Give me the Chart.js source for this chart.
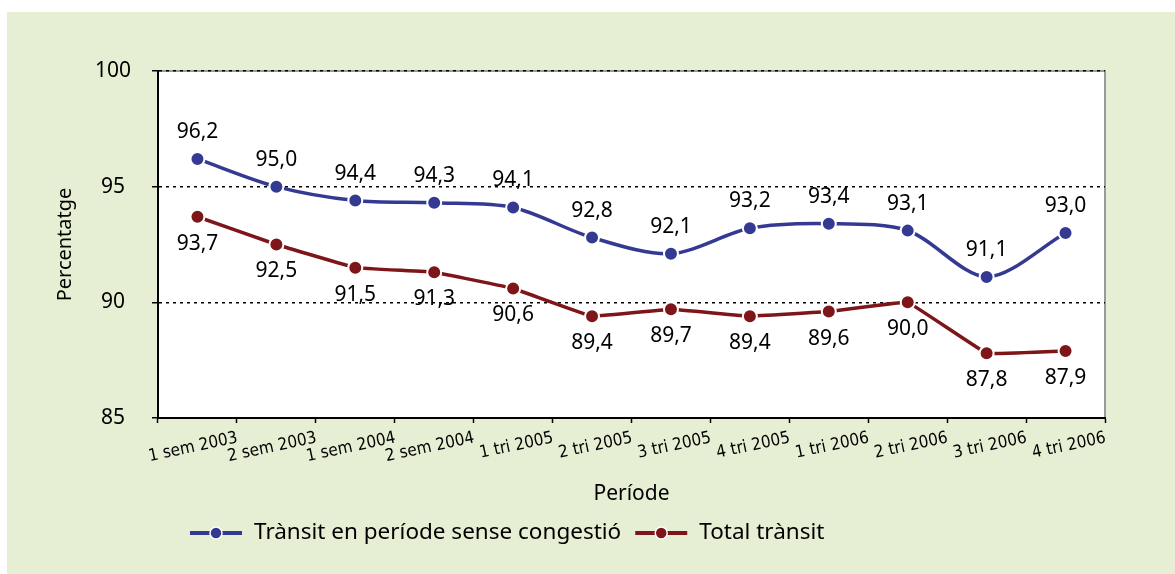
<!DOCTYPE html>
<html>
<head>
<meta charset="utf-8">
<script src="https://cdn.jsdelivr.net/npm/chart.js@4/dist/chart.umd.min.js"></script>
<style>
  html, body { margin: 0; padding: 0; background: #fff; }
  #wrap { width: 1175px; height: 574px; }
</style>
</head>
<body>
<div id="wrap"><canvas id="canvas" width="1175" height="574"></canvas></div>
<script>
// dades del gràfic
const periodes = [
  "1 sem 2003", "2 sem 2003", "1 sem 2004", "2 sem 2004",
  "1 tri 2005", "2 tri 2005", "3 tri 2005", "4 tri 2005",
  "1 tri 2006", "2 tri 2006", "3 tri 2006", "4 tri 2006",
];
const sensecongestio = [96.2, 95.0, 94.4, 94.3, 94.1, 92.8, 92.1, 93.2, 93.4, 93.1, 91.1, 93.0];
const totalTransit = [93.7, 92.5, 91.5, 91.3, 90.6, 89.4, 89.7, 89.4, 89.6, 90.0, 87.8, 87.9];
const yTicks = [85, 90, 95, 100];

const FONT = "'Noto Sans', 'DejaVu Sans', sans-serif";
const NARROW = "'Liberation Sans Narrow', 'DejaVu Sans Condensed', 'Noto Sans', sans-serif";
const BLUE = "#343a92";
const RED = "#7e1518";
const GREEN = "#e6efd4";

// fons verd + àrea blanca amb marc gris
const backgroundPlugin = {
  id: "fons",
  beforeDraw(chart) {
    const { ctx, chartArea: a } = chart;
    ctx.save();
    ctx.fillStyle = GREEN;
    ctx.fillRect(7, 12, chart.width - 7, chart.height - 12);
    ctx.fillStyle = "#fff";
    ctx.fillRect(a.left, a.top, a.right - a.left, a.bottom - a.top);
    ctx.strokeStyle = "#9a9a9a";
    ctx.lineWidth = 2;
    ctx.strokeRect(a.left, a.top, a.right - a.left, a.bottom - a.top);
    ctx.restore();
  },
};

// etiquetes de valor: blau a sobre, vermell a sota
const labelsPlugin = {
  id: "etiquetes",
  afterDatasetsDraw(chart) {
    const { ctx } = chart;
    ctx.save();
    ctx.font = "21px " + FONT;
    ctx.fillStyle = "#000";
    ctx.textAlign = "center";
    ctx.textBaseline = "middle";
    chart.data.datasets.forEach((ds, i) => {
      const meta = chart.getDatasetMeta(i);
      const dy = i === 0 ? -27 : 27;
      meta.data.forEach((pt, j) => {
        const txt = ds.data[j].toFixed(1).replace(".", ",");
        ctx.fillText(txt, pt.x, pt.y + dy);
      });
    });
    ctx.restore();
  },
};

// llegenda a baix amb línia + marcador
const legendPlugin = {
  id: "llegenda",
  afterDraw(chart) {
    const { ctx } = chart;
    const y = 533;
    let x = 190;
    ctx.save();
    ctx.font = "22.5px " + FONT;
    ctx.textBaseline = "middle";
    chart.data.datasets.forEach((ds) => {
      ctx.strokeStyle = ds.borderColor;
      ctx.lineWidth = 4;
      ctx.beginPath();
      ctx.moveTo(x, y);
      ctx.lineTo(x + 52, y);
      ctx.stroke();
      ctx.beginPath();
      ctx.arc(x + 26, y, 6, 0, Math.PI * 2);
      ctx.fillStyle = ds.borderColor;
      ctx.fill();
      ctx.strokeStyle = "#fff";
      ctx.lineWidth = 1.5;
      ctx.stroke();
      ctx.fillStyle = "#000";
      ctx.fillText(ds.label, x + 64, y);
      x += 64 + ctx.measureText(ds.label).width + 14;
    });
    ctx.restore();
  },
};

const ctx = document.getElementById("canvas").getContext("2d");
new Chart(ctx, {
  type: "line",
  data: {
    labels: periodes,
    datasets: [
      {
        label: "Trànsit en període sense congestió",
        data: sensecongestio,
        borderColor: BLUE,
        backgroundColor: BLUE,
        pointBackgroundColor: BLUE,
        pointBorderColor: "#fff",
        pointBorderWidth: 2,
        pointRadius: 7,
        borderWidth: 3.5,
        tension: 0.3,
      },
      {
        label: "Total trànsit",
        data: totalTransit,
        borderColor: RED,
        backgroundColor: RED,
        pointBackgroundColor: RED,
        pointBorderColor: "#fff",
        pointBorderWidth: 2,
        pointRadius: 7,
        borderWidth: 3.5,
        tension: 0.05,
      },
    ],
  },
  options: {
    responsive: false,
    animation: false,
    layout: { padding: { left: 10, top: 71, right: 70, bottom: 60 } },
    plugins: {
      legend: { display: false },
      tooltip: { enabled: false },
    },
    scales: {
      x: {
        offset: true,
        grid: {
          display: true,
          offset: true,
          drawOnChartArea: false,
          tickLength: 5,
          tickColor: "#000",
          tickWidth: 1.5,
        },
        border: { display: true, color: "#000", width: 2 },
        ticks: {
          color: "#000",
          font: { family: NARROW, size: 17 },
          minRotation: 12,
          maxRotation: 12,
          autoSkip: false,
          labelOffset: 40,
          padding: 5,
        },
        title: {
          display: true,
          text: "Període",
          color: "#000",
          font: { family: FONT, size: 21 },
          padding: { top: 0, bottom: 7 },
        },
        afterFit(scale) {
          scale.height = 96;
        },
      },
      y: {
        min: 85,
        max: 100,
        afterBuildTicks(scale) {
          scale.ticks = yTicks.map((v) => ({ value: v }));
        },
        grid: {
          color: (c) => (c.tick && c.tick.value === 85 ? "rgba(0,0,0,0)" : "#000"),
          lineWidth: 1.5,
          tickLength: 6,
          tickColor: "#000",
          tickWidth: 1.5,
          tickBorderDash: [],
        },
        border: { display: true, color: "#000", width: 2, dash: [3, 4] },
        ticks: {
          color: "#000",
          font: { family: FONT, size: 21 },
          crossAlign: "center",
          padding: 21,
        },
        title: {
          display: true,
          text: "Percentatge",
          color: "#000",
          font: { family: FONT, size: 20 },
          padding: { top: 43, bottom: 0 },
        },
        afterFit(scale) {
          scale.width = 148;
        },
      },
    },
  },
  plugins: [backgroundPlugin, labelsPlugin, legendPlugin],
});
</script>
</body>
</html>
